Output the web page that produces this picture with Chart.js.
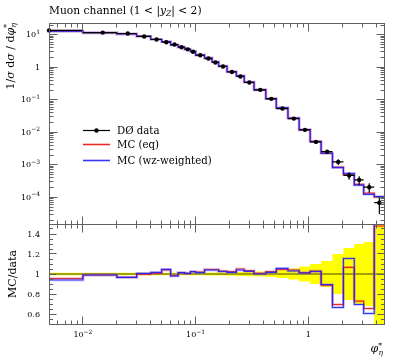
<!DOCTYPE html>
<html><head><meta charset="utf-8">
<script src="https://cdn.jsdelivr.net/npm/chart.js@4.4.1/dist/chart.umd.min.js"></script>
<style>
html,body{margin:0;padding:0;background:#fff;}
#wrap{position:relative;width:397px;height:358px;background:#fff;}
canvas{position:absolute;left:0;top:0;}
</style></head><body>
<div id="wrap"><canvas id="main" width="397" height="358"></canvas><canvas id="ratio" width="397" height="358"></canvas></div>
<script>
// ---------------- data ----------------
const phiEdges = [0,0.01,0.02,0.03,0.04,0.05,0.06,0.07,0.08,0.09,0.10,0.12,0.14,0.16,0.19,0.23,0.27,0.33,0.42,0.52,0.66,0.83,1.04,1.30,1.64,2.05,2.56,3.10,3.85,4.70];
const dataValues = [13.7,11.7,10.97,8.93,7.17,5.91,5.02,4.15,3.57,3.01,2.35,1.86,1.41,1.06,0.719,0.523,0.341,0.203,0.107,0.0539,0.0264,0.0119,0.00508,0.00255,0.00123,0.000471,0.000343,0.000205,0.0000684];
const dataRelErr = [0.012,0.012,0.012,0.012,0.012,0.012,0.012,0.012,0.012,0.012,0.013,0.014,0.015,0.016,0.018,0.02,0.022,0.025,0.03,0.04,0.055,0.075,0.10,0.13,0.20,0.26,0.30,0.32,0.55];
const ratioEq = [0.955,0.99,0.967,0.997,1.007,1.04,0.983,1.013,1.007,1.023,1.02,1.045,1.045,1.03,1.023,1.05,1.033,1.007,1.023,1.045,1.04,1.013,1.03,0.887,0.695,1.067,0.728,0.655,1.48];
const ratioWz = [0.94,0.99,0.967,1.007,1.017,1.047,0.98,1.013,1.007,1.023,1.013,1.04,1.04,1.025,1.017,1.04,1.027,1.0,1.017,1.057,1.03,1.01,1.025,0.895,0.665,1.155,0.695,0.605,1.55];

const xTickValues = [0.01, 0.1, 1];
const xTickLabels = ['10^-2', '10^-1', '1'];
const yMainTickValues = [10, 1, 0.1, 0.01, 0.001, 0.0001];
const yMainTickLabels = ['10^1', '1', '10^-1', '10^-2', '10^-3', '10^-4'];
const yRatioTickValues = [1.4, 1.2, 1.0, 0.8, 0.6];
const yRatioTickLabels = ['1.4', '1.2', '1', '0.8', '0.6'];
const legendLabels = ['DØ data', 'MC (eq)', 'MC (wz-weighted)'];

// ---------------- axis ranges & styles ----------------
const X_MIN = 0.005, X_MAX = 4.7;
const YM_MIN = Math.pow(10, -4.821), YM_MAX = Math.pow(10, 1.364);
const YR_MIN = 0.5, YR_MAX = 1.5;
const RED = 'rgba(235,20,20,0.9)', RED_HALO = 'rgba(245,90,90,0.3)';
const BLUE = 'rgba(25,25,250,0.85)', BLUE_HALO = 'rgba(100,100,255,0.3)';
const YELLOW = '#ffff00';
const AXIS = '#606060';
const FONT = '"DejaVu Serif", "Liberation Serif", serif';
function font(size, italic){ return (italic ? 'italic ' : '') + size + 'px ' + FONT; }

// ---------------- derived ----------------
const lo = i => (phiEdges[i] > 0 ? phiEdges[i] : X_MIN);
const centers = dataValues.map((v, i) => (phiEdges[i] + phiEdges[i + 1]) / 2);
function stepPts(vals){ return phiEdges.map((e, i) => ({x: lo(i), y: vals[Math.min(i, vals.length - 1)]})); }
const mcEq = dataValues.map((v, i) => v * ratioEq[i]);
const mcWz = dataValues.map((v, i) => v * ratioWz[i]);
const xBars = [], yBars = [], dots = [];
dataValues.forEach((v, i) => {
  xBars.push({x: lo(i), y: v}, {x: phiEdges[i + 1], y: v}, {x: phiEdges[i + 1], y: null});
  yBars.push({x: centers[i], y: v * (1 - dataRelErr[i])}, {x: centers[i], y: v * (1 + dataRelErr[i])}, {x: centers[i], y: null});
  dots.push({x: centers[i], y: v});
});
const ones = dataValues.map(() => 1);
const bandUp = dataRelErr.map(e => 1 + e);
const bandDn = dataRelErr.map(e => 1 - e);

function stepDS(vals, color, width, order){
  return {data: stepPts(vals), borderColor: color, borderWidth: width, stepped: 'before', pointRadius: 0, fill: false, order: order};
}

// ---------------- text helpers ----------------
function parsePow(lbl){
  const p = lbl.split('^');
  const runs = [{t: p[0], size: 8}];
  if (p.length > 1) runs.push({t: p[1].replace('-', '\u2212'), size: 6, dy: -3.5});
  return runs;
}
function runsWidth(ctx, runs){ let w = 0; for (const r of runs){ ctx.font = font(r.size, r.italic); w += ctx.measureText(r.t).width + (r.gap || 0);} return w; }
function drawRuns(ctx, runs, x, y){ for (const r of runs){ ctx.font = font(r.size, r.italic); ctx.fillText(r.t, x, y + (r.dy || 0)); x += ctx.measureText(r.t).width + (r.gap || 0);} return x; }

function logTicks(min, max){
  const out = [];
  for (let d = Math.floor(Math.log10(min)); d <= Math.ceil(Math.log10(max)); d++){
    for (let k = 1; k <= 9; k++){
      const v = +(k * Math.pow(10, d)).toPrecision(6);
      if (v >= min * 0.9999 && v <= max * 1.0001) out.push({v, major: k === 1});
    }
  }
  return out;
}
const px = v => Math.floor(v) + 0.5;

function drawXTicks(ctx, xs, top, bottom){
  for (const t of logTicks(X_MIN, X_MAX)){
    const x = px(xs.getPixelForValue(t.v));
    const L = t.major ? 8 : 4;
    ctx.beginPath();
    ctx.moveTo(x, top); ctx.lineTo(x, top + L);
    ctx.moveTo(x, bottom); ctx.lineTo(x, bottom - L);
    ctx.stroke();
  }
}

// ---------------- main panel plugin ----------------
const mainDecor = {
  id: 'mainDecor',
  afterDraw(chart){
    const ctx = chart.ctx, ca = chart.chartArea, xs = chart.scales.x, ys = chart.scales.y;
    const L = px(ca.left), R = px(ca.right), T = px(ca.top), B = px(ca.bottom);
    ctx.save();
    ctx.strokeStyle = AXIS; ctx.lineWidth = 1;
    ctx.strokeRect(L, T, R - L, B - T);
    drawXTicks(ctx, xs, T, B);
    for (const t of logTicks(YM_MIN, YM_MAX)){
      const y = px(ys.getPixelForValue(t.v));
      const len = t.major ? 8 : 4;
      ctx.beginPath();
      ctx.moveTo(L, y); ctx.lineTo(L + len, y);
      ctx.moveTo(R, y); ctx.lineTo(R - len, y);
      ctx.stroke();
    }
    ctx.fillStyle = '#000';
    ctx.textBaseline = 'alphabetic';
    yMainTickValues.forEach((v, i) => {
      const runs = parsePow(yMainTickLabels[i]);
      const w = runsWidth(ctx, runs);
      drawRuns(ctx, runs, 40 - w, ys.getPixelForValue(v) + 2.5);
    });
    drawRuns(ctx, [
      {t: 'Muon channel (1 < |', size: 10.7},
      {t: 'y', size: 10.7, italic: true},
      {t: 'Z', size: 7.5, italic: true, dy: 2},
      {t: '| < 2)', size: 10.7}
    ], 49, 13.5);
    const yRuns = [
      {t: '1/', size: 11}, {t: '\u03c3', size: 11, italic: true},
      {t: ' d', size: 11}, {t: '\u03c3', size: 11, italic: true},
      {t: ' / d', size: 11}, {t: '\u03c6', size: 11, italic: true},
      {t: '*', size: 7.5, dy: -4.5, gap: -3.5}, {t: '\u03b7', size: 7.5, italic: true, dy: 2.5}
    ];
    const yw = runsWidth(ctx, yRuns);
    ctx.save();
    ctx.translate(13.5, 23 + yw);
    ctx.rotate(-Math.PI / 2);
    drawRuns(ctx, yRuns, 0, 0);
    ctx.restore();
    const lx0 = 83, lx1 = 110, tx = 117;
    const ly = [130.5, 144.5, 160.5];
    ctx.strokeStyle = '#000'; ctx.lineWidth = 1.2;
    ctx.beginPath(); ctx.moveTo(lx0, ly[0]); ctx.lineTo(lx1, ly[0]); ctx.stroke();
    ctx.beginPath(); ctx.arc((lx0 + lx1) / 2, ly[0], 2.2, 0, Math.PI * 2); ctx.fill();
    [[RED_HALO, RED], [BLUE_HALO, BLUE]].forEach((c, k) => {
      const y = ly[k + 1];
      ctx.strokeStyle = c[0]; ctx.lineWidth = 2.8;
      ctx.beginPath(); ctx.moveTo(lx0, y); ctx.lineTo(lx1, y); ctx.stroke();
      ctx.strokeStyle = c[1]; ctx.lineWidth = 1.2;
      ctx.beginPath(); ctx.moveTo(lx0, y); ctx.lineTo(lx1, y); ctx.stroke();
    });
    ctx.fillStyle = '#000';
    ctx.font = font(10.2);
    legendLabels.forEach((s, k) => ctx.fillText(s, tx, ly[k] + 3.7));
    ctx.restore();
  }
};

// ---------------- ratio panel plugin ----------------
const ratioDecor = {
  id: 'ratioDecor',
  afterDraw(chart){
    const ctx = chart.ctx, ca = chart.chartArea, xs = chart.scales.x, ys = chart.scales.y;
    const L = px(ca.left), R = px(ca.right), T = px(ca.top), B = px(ca.bottom);
    ctx.save();
    ctx.strokeStyle = AXIS; ctx.lineWidth = 1;
    ctx.strokeRect(L, T, R - L, B - T);
    drawXTicks(ctx, xs, T, B);
    for (let k = 0; k <= 20; k++){
      const v = YR_MIN + k * 0.05;
      const r = Math.round(v * 100);
      const major = r % 20 === 0;
      const y = px(ys.getPixelForValue(v));
      const len = major ? 7 : 3.5;
      ctx.beginPath();
      ctx.moveTo(L, y); ctx.lineTo(L + len, y);
      ctx.moveTo(R, y); ctx.lineTo(R - len, y);
      ctx.stroke();
    }
    ctx.fillStyle = '#000';
    yRatioTickValues.forEach((v, i) => {
      ctx.font = font(8);
      const w = ctx.measureText(yRatioTickLabels[i]).width;
      ctx.fillText(yRatioTickLabels[i], 40 - w, ys.getPixelForValue(v) + 3);
    });
    xTickValues.forEach((v, i) => {
      const runs = parsePow(xTickLabels[i]);
      const w = runsWidth(ctx, runs);
      drawRuns(ctx, runs, xs.getPixelForValue(v) - w / 2, 337);
    });
    const rRuns = [{t: 'MC/data', size: 11}];
    const rw = runsWidth(ctx, rRuns);
    ctx.save();
    ctx.translate(15.5, (ca.top + ca.bottom) / 2 + rw / 2);
    ctx.rotate(-Math.PI / 2);
    drawRuns(ctx, rRuns, 0, 0);
    ctx.restore();
    const xRuns = [{t: '\u03c6', size: 11, italic: true}, {t: '*', size: 7.5, dy: -4.5, gap: -3.5}, {t: '\u03b7', size: 7.5, italic: true, dy: 2.5}];
    const xw = runsWidth(ctx, xRuns);
    drawRuns(ctx, xRuns, 383 - xw, 352);
    ctx.restore();
  }
};

function baseOptions(pad, yCfg){
  return {
    responsive: false, animation: false, devicePixelRatio: 1, events: [],
    layout: {padding: pad},
    scales: {
      x: {type: 'logarithmic', min: X_MIN, max: X_MAX, display: false},
      y: Object.assign({display: false}, yCfg)
    },
    plugins: {legend: {display: false}, tooltip: {enabled: false}},
    elements: {point: {radius: 0}, line: {tension: 0}}
  };
}

new Chart(document.getElementById('main'), {
  type: 'line',
  data: {datasets: [
    {data: dots, showLine: false, pointRadius: 2.2, pointBackgroundColor: '#000', pointBorderWidth: 0, order: 0, clip: 5},
    {data: yBars, borderColor: '#000', borderWidth: 1.2, spanGaps: false, pointRadius: 0, order: 1},
    {data: xBars, borderColor: '#000', borderWidth: 1.2, spanGaps: false, pointRadius: 0, order: 2},
    stepDS(mcWz, BLUE, 1.2, 3),
    stepDS(mcWz, BLUE_HALO, 2.8, 4),
    stepDS(mcEq, RED, 1.2, 5),
    stepDS(mcEq, RED_HALO, 2.8, 6)
  ]},
  options: baseOptions({left: 49, right: 13, top: 23, bottom: 134}, {type: 'logarithmic', min: YM_MIN, max: YM_MAX}),
  plugins: [mainDecor]
});

new Chart(document.getElementById('ratio'), {
  type: 'line',
  data: {datasets: [
    stepDS(ratioWz, BLUE, 1.2, 0),
    stepDS(ratioWz, BLUE_HALO, 2.8, 1),
    stepDS(ratioEq, RED, 1.2, 2),
    stepDS(ratioEq, RED_HALO, 2.8, 3),
    stepDS(ones, 'rgba(40,40,0,0.85)', 1, 4),
    Object.assign(stepDS(bandUp, 'rgba(0,0,0,0)', 0, 5), {fill: {value: 1}, backgroundColor: YELLOW}),
    Object.assign(stepDS(bandDn, 'rgba(0,0,0,0)', 0, 6), {fill: {value: 1}, backgroundColor: YELLOW})
  ]},
  options: baseOptions({left: 49, right: 13, top: 224, bottom: 34}, {type: 'linear', min: YR_MIN, max: YR_MAX}),
  plugins: [ratioDecor]
});
</script>
</body></html>
